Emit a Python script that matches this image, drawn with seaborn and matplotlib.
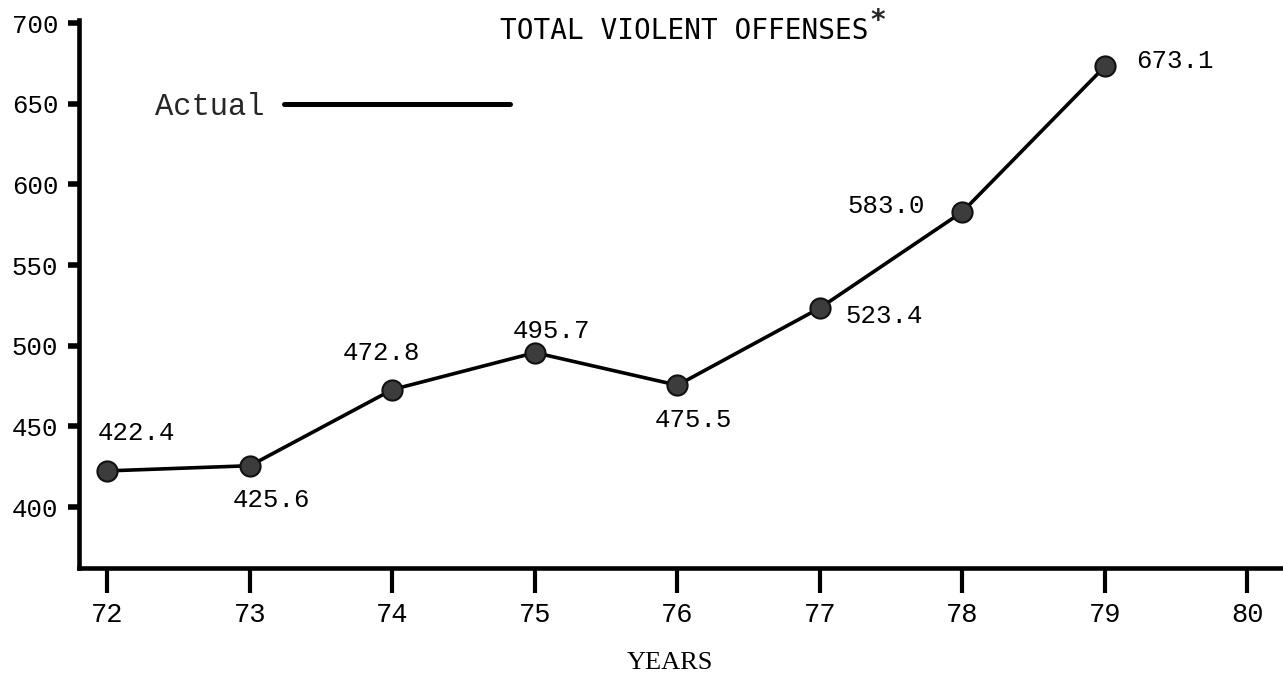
import matplotlib
matplotlib.use("Agg")
import matplotlib.pyplot as plt
from matplotlib.lines import Line2D
import pandas as pd
import seaborn as sns

# Yearly totals of violent offenses
years = [72, 73, 74, 75, 76, 77, 78, 79]
offenses = [422.4, 425.6, 472.8, 495.7, 475.5, 523.4, 583.0, 673.1]
value_labels = ["422.4", "425.6", "472.8", "495.7", "475.5", "523.4", "583.0", "673.1"]

x_ticks = [72, 73, 74, 75, 76, 77, 78, 79, 80]
y_ticks = [400, 450, 500, 550, 600, 650, 700]

title_text = "TOTAL VIOLENT OFFENSES"
x_title = "YEARS"
series_name = "Actual"

sns.set_style("white")
plt.rcParams["font.family"] = ["Liberation Mono", "DejaVu Sans"]

W, H = 1283, 682
fig = plt.figure(figsize=(W / 100, H / 100), dpi=100)
ax = fig.add_axes([79 / W, 1 - 568 / H, 1 - 79 / W, (568 - 20) / H])

df = pd.DataFrame({"year": years, "offenses": offenses})
sns.lineplot(
    data=df, x="year", y="offenses", ax=ax,
    color="black", lw=2.6, marker="o", markersize=14.5,
    markerfacecolor="#3c3c3c", markeredgecolor="#111111", markeredgewidth=1.5,
)

ax.set_xlim(71.80, 80.25)
ax.set_ylim(362.2, 701.9)
ax.set_xticks(x_ticks)
ax.set_xticklabels([str(v) for v in x_ticks])
ax.set_yticks(y_ticks)
ax.set_yticklabels([str(v) for v in y_ticks])
ax.set_xlabel("")
ax.set_ylabel("")

for side in ("top", "right"):
    ax.spines[side].set_visible(False)
for side in ("left", "bottom"):
    ax.spines[side].set_linewidth(3.3)
    ax.spines[side].set_color("black")

ax.tick_params(axis="x", bottom=True, direction="out", length=18, width=3,
               pad=6.5, labelsize=19.5, colors="black")
ax.tick_params(axis="y", left=True, direction="out", length=8, width=4,
               pad=7, labelsize=18.5, colors="black")

# value labels placed around each point (offsets in pixels)
label_offsets = [(29, 38), (22, -34), (-11, 37), (17, 22),
                 (16, -35), (64, -8), (-76, 6), (70, 5)]
for yr, val, txt, off in zip(years, offenses, value_labels, label_offsets):
    ax.annotate(txt, xy=(yr, val), xytext=off, textcoords="offset pixels",
                ha="center", va="center", fontsize=18.5, color="black")

title = fig.text(500 / W, 1 - 31 / H, title_text, family="DejaVu Sans Mono",
                 fontsize=20, ha="left", va="center", color="black")
ax.annotate("*", xy=(1.0, 0.85), xycoords=title, xytext=(1, 0),
            textcoords="offset pixels", ha="left", va="center",
            family="DejaVu Sans Mono", fontsize=20, fontweight="bold",
            annotation_clip=False)

fig.text(627 / W, 1 - 663 / H, x_title, family="Liberation Serif",
         fontsize=19, ha="left", va="center", color="black")

handle = Line2D([], [], color="black", lw=3.6)
fig.legend([handle], [series_name], loc="center left",
           bbox_to_anchor=(155 / W, 1 - 107 / H), frameon=False,
           markerfirst=False, handlelength=7.4, handletextpad=0.65,
           borderpad=0, borderaxespad=0,
           prop={"family": "Liberation Mono", "size": 22})

fig.savefig("out.png", dpi=100)
